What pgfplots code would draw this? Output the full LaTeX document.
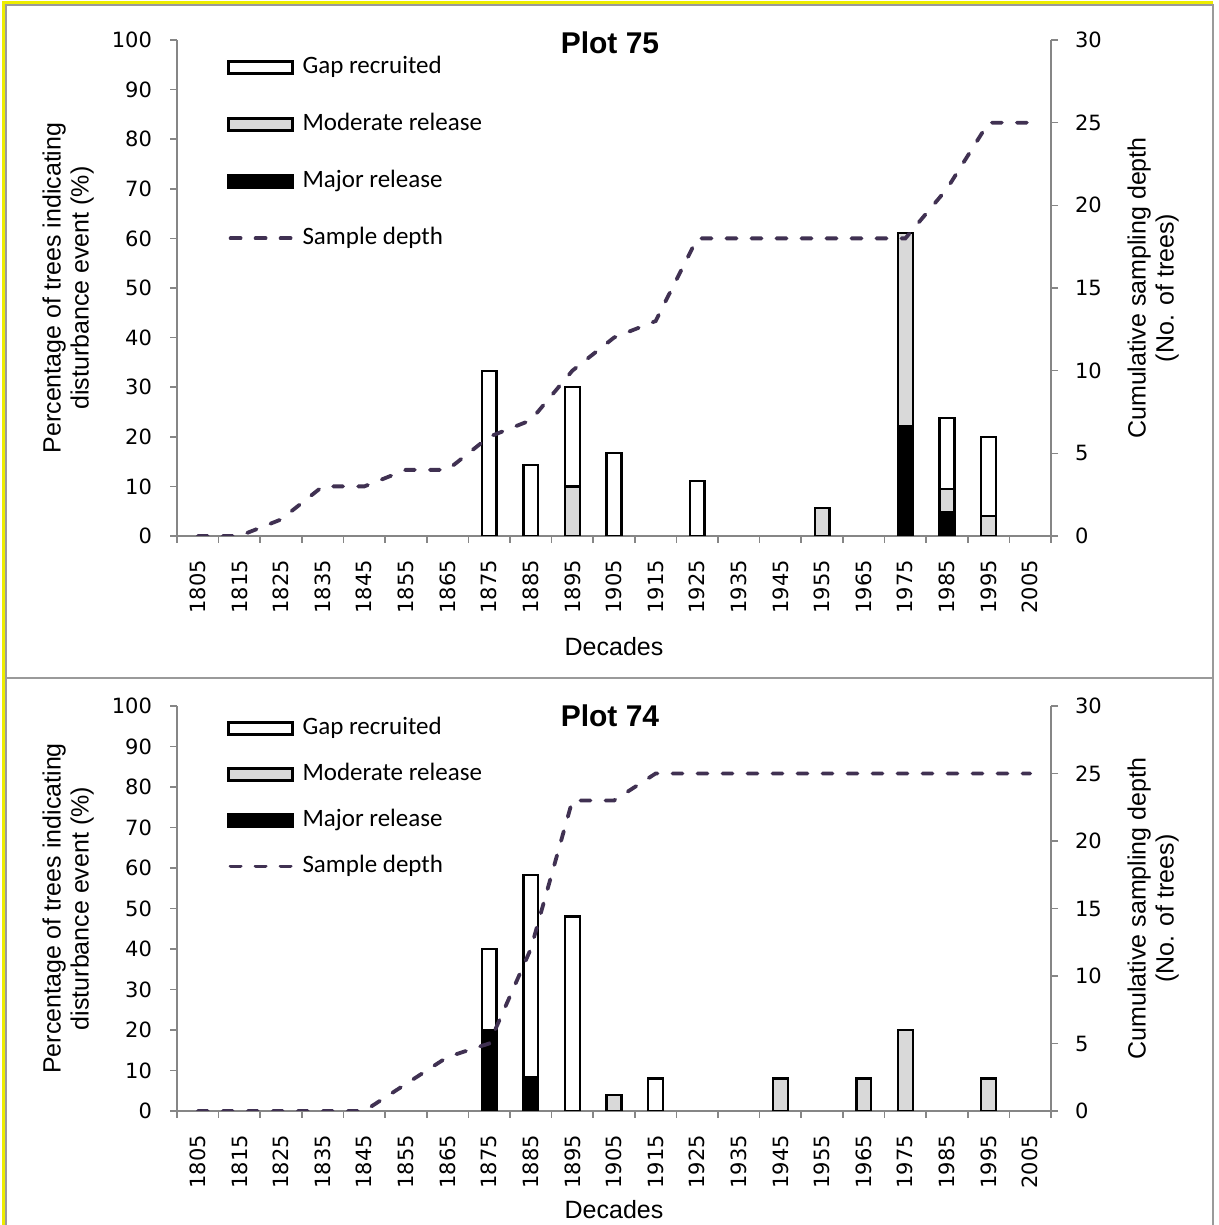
\documentclass[border=0pt]{standalone}
\usepackage{pgfplots}
\usepackage{pgfplotstable}
\pgfplotsset{compat=1.18}
\usepackage{fontspec}
\setmainfont{Liberation Sans}
\newfontfamily\legfont{Carlito}
\newfontfamily\tickfont{DejaVu Sans}
\definecolor{sdcol}{HTML}{403152}
\definecolor{modgray}{HTML}{D9D9D9}
\definecolor{axgray}{HTML}{868686}
\definecolor{frgray}{HTML}{9A9A9A}
\definecolor{fryel}{HTML}{EDED00}

% Plot 75: decade index, major, moderate, gap
\pgfplotstableread{
x major moderate gap
7 0 0 33.3
8 0 0 14.3
9 0 10 20
10 0 0 16.7
12 0 0 11.1
15 0 5.6 0
17 22.2 38.9 0
18 4.8 4.7 14.3
19 0 4 16
}\barsA
\pgfplotstableread{
x depth
0 0
1 0
2 1
3 3
4 3
5 4
6 4
7 6
8 7
9 10
10 12
11 13
12 18
13 18
14 18
15 18
16 18
17 18
18 21
19 25
20 25
}\depthA
% Plot 74
\pgfplotstableread{
x major moderate gap
7 20 0 20
8 8.3 0 50
9 0 0 48
10 0 4 0
11 0 0 8
14 0 8 0
16 0 8 0
17 0 20 0
19 0 8 0
}\barsB
\pgfplotstableread{
x depth
0 0
1 0
2 0
3 0
4 0
5 2
6 4
7 5
8 12
9 23
10 23
11 25
12 25
13 25
14 25
15 25
16 25
17 25
18 25
19 25
20 25
}\depthB

\pgfplotsset{
  common/.style={
    scale only axis, width=437pt,
    xmin=-0.5, xmax=20.5,
    axis line style={axgray, line width=0.8pt, -},
    tick style={axgray, line width=0.8pt},
    tick align=outside, major tick length=3.5pt,
    /pgf/number format/assume math mode=true,
    yticklabel style={font=\tickfont\fontsize{10.5}{12}\selectfont},
  },
  leftax/.style={
    common,
    ymin=0, ymax=100, ytick={0,10,...,100},
    axis x line*=bottom, axis y line*=left,
    xtick={-0.5,0.5,...,20.5},
    x tick label as interval,
    xticklabels={1805,1815,1825,1835,1845,1855,1865,1875,1885,1895,1905,1915,1925,1935,1945,1955,1965,1975,1985,1995,2005},
    xticklabel style={rotate=90, anchor=east, font=\tickfont\fontsize{10.5}{12}\selectfont},
    xticklabel shift=5pt,
    yticklabel shift=5.5pt,
    ybar stacked, bar width=7.4pt,
    every axis y label/.style={at={(rel axis cs:0,0.5)}, xshift=-67.5pt, rotate=90, anchor=north, align=center, inner sep=0pt, font=\fontsize{12.5}{14}\selectfont},
    every axis title/.style={at={(rel axis cs:0.4954,1)}, anchor=center, inner sep=0pt, font=\bfseries\fontsize{15}{18}\selectfont},
    ylabel={Percentage of trees indicating\\disturbance event (\%)},
    xlabel={Decades},
  },
  rightax/.style={
    common,
    ymin=0, ymax=30, ytick={0,5,...,30},
    axis y line*=right, axis x line=none,
    yticklabel shift=5pt,
    every axis y label/.style={at={(rel axis cs:1,0.5)}, xshift=38pt, rotate=90, anchor=north, align=center, inner sep=0pt, font=\fontsize{12.5}{14}\selectfont},
    ylabel={Cumulative sampling depth\\(No. of trees)},
    legend cell align=left,
  },
  barstyle/.style={draw=black, line width=1.2pt},
  sdline/.style={sdcol, line width=1.9pt, line cap=round, dash pattern=on 5pt off 7.5pt},
  legentries/.style={
    legend style={draw=none, fill=none, inner sep=0pt, column sep=4pt,
      font=\legfont\fontsize{12.5}{15}\selectfont,
      nodes={inner sep=0pt, text height=9pt, text depth=3pt}},
  },
}

\newcommand{\legendbars}{%
  \addlegendimage{legend image code/.code={\draw[draw=black,fill=white,line width=1.2pt] (0pt,-3pt) rectangle (32pt,3pt);}}
  \addlegendentry{Gap recruited}
  \addlegendimage{legend image code/.code={\draw[draw=black,fill=modgray,line width=1.2pt] (0pt,-3pt) rectangle (32pt,3pt);}}
  \addlegendentry{Moderate release}
  \addlegendimage{legend image code/.code={\draw[draw=black,fill=black,line width=1.2pt] (0pt,-3pt) rectangle (32pt,3pt);}}
  \addlegendentry{Major release}
}

\begin{document}
\begin{tikzpicture}
\useasboundingbox (0,0) rectangle (609.5pt,612.5pt);
% frames
\draw[frgray, line width=1.2pt] (3pt,273.5pt) rectangle (606.5pt,610pt);
\draw[frgray, line width=1.2pt] (3pt,-5pt) rectangle (606.5pt,273.5pt);
\draw[fryel, line width=1.2pt] (1.8pt,-5pt) -- (1.8pt,611.2pt) -- (606.5pt,611.2pt);

% ---------- Plot 75 ----------
\begin{axis}[leftax, height=248pt, at={(88.5pt,344.5pt)}, anchor=south west,
  title={Plot 75}, title style={yshift=-1.5pt},
  xlabel style={at={(rel axis cs:0.5,0)}, yshift=-55.5pt, anchor=center, font=\fontsize{12.5}{14}\selectfont}]
\addplot[barstyle, fill=black] table[x=x, y=major] {\barsA};
\addplot[barstyle, fill=modgray] table[x=x, y=moderate] {\barsA};
\addplot[barstyle, fill=white] table[x=x, y=gap] {\barsA};
\end{axis}
\begin{axis}[rightax, height=248pt, at={(88.5pt,344.5pt)}, anchor=south west, legentries,
  legend style={at={(rel axis cs:0.0572,0.9698)}, anchor=north west, row sep=16.5pt}]
\legendbars
\addplot[sdline, legend image code/.code={\draw[sdcol, line width=1.9pt, line cap=round, dash pattern=on 5pt off 7.5pt] (1pt,0pt) -- (32pt,0pt);}] table[x=x, y=depth] {\depthA};
\addlegendentry{Sample depth}
\end{axis}

% ---------- Plot 74 ----------
\begin{axis}[leftax, height=202.5pt, at={(88.5pt,57pt)}, anchor=south west,
  title={Plot 74}, title style={yshift=-5pt},
  xlabel style={at={(rel axis cs:0.5,0)}, yshift=-49.5pt, anchor=center, font=\fontsize{12.5}{14}\selectfont}]
\addplot[barstyle, fill=black] table[x=x, y=major] {\barsB};
\addplot[barstyle, fill=modgray] table[x=x, y=moderate] {\barsB};
\addplot[barstyle, fill=white] table[x=x, y=gap] {\barsB};
\end{axis}
\begin{axis}[rightax, height=202.5pt, at={(88.5pt,57pt)}, anchor=south west, legentries,
  legend style={at={(rel axis cs:0.0572,0.9753)}, anchor=north west, row sep=11pt}]
\legendbars
\addplot[sdline, legend image code/.code={\draw[sdcol, line width=1.9pt, line cap=round, dash pattern=on 5pt off 7.5pt] (1pt,0pt) -- (32pt,0pt);}] table[x=x, y=depth] {\depthB};
\addlegendentry{Sample depth}
\end{axis}
\end{tikzpicture}
\end{document}
